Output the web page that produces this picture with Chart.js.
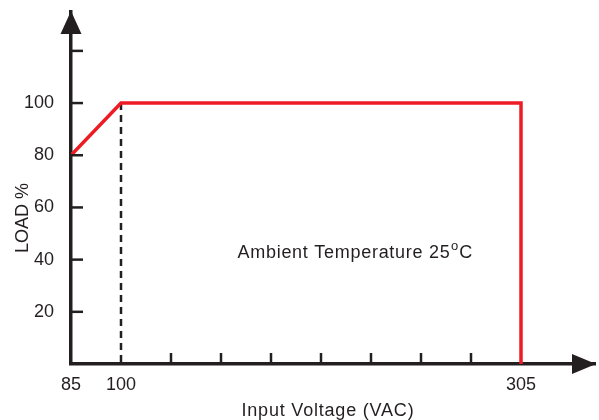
<!DOCTYPE html>
<html>
<head>
<meta charset="utf-8">
<script src="https://cdn.jsdelivr.net/npm/chart.js@4.4.0/dist/chart.umd.min.js"></script>
<style>
  html, body { margin: 0; padding: 0; background: #fff; }
  #wrap { width: 599px; height: 420px; }
</style>
</head>
<body>
<div id="wrap"><canvas id="c"></canvas></div>
<script>
// Schematic x-axis: each tick step is one unit; 85 V at 0, 100 V at 1, 305 V at 9
const voltageLabels = ['85', '100', '305'];
const voltagePositions = [0, 1, 9];
const minorTickPositions = [2, 3, 4, 5, 6, 7, 8];
// Derating curve (LOAD %)
const curveX = [0, 1, 9, 9];
const curveY = [80, 100, 100, 0];
// Dashed marker at 100 VAC
const dashX = [1, 1];
const dashY = [100, 0];
// Y ticks
const yLabelTicks = [20, 40, 60, 80, 100];
const yTickMarks = [20, 40, 60, 80, 100, 120];
const xTitle = 'Input Voltage (VAC)';
const yTitle = 'LOAD %';
const noteText = 'Ambient Temperature 25';
const noteSup = 'o';
const noteEnd = 'C';

const INK = '#231f20';
const RED = '#ed1c24';
const FONT = '"Liberation Sans", Arial, sans-serif';

const toPts = (xs, ys) => xs.map((x, i) => ({ x: x, y: ys[i] }));

const decor = {
  id: 'decor',
  afterDraw(chart) {
    const ctx = chart.ctx;
    const xs = chart.scales.x, ys = chart.scales.y;
    const x0 = xs.getPixelForValue(0);
    const y0 = ys.getPixelForValue(0);
    ctx.save();
    ctx.strokeStyle = INK;
    ctx.fillStyle = INK;
    ctx.lineWidth = 2.5;
    // y tick marks (inside)
    yTickMarks.forEach(v => {
      const py = ys.getPixelForValue(v);
      ctx.beginPath(); ctx.moveTo(x0, py); ctx.lineTo(x0 + 12, py); ctx.stroke();
    });
    // x minor tick marks (inside)
    minorTickPositions.forEach(v => {
      const px = xs.getPixelForValue(v);
      ctx.beginPath(); ctx.moveTo(px, y0); ctx.lineTo(px, y0 - 11); ctx.stroke();
    });
    // arrows
    const top = chart.chartArea.top;
    ctx.beginPath();
    ctx.moveTo(x0, top - 1); ctx.lineTo(x0 - 10.5, top + 22); ctx.lineTo(x0 + 10.5, top + 22); ctx.closePath(); ctx.fill();
    const right = chart.chartArea.right;
    ctx.beginPath();
    ctx.moveTo(right + 1, y0); ctx.lineTo(right - 23, y0 - 10); ctx.lineTo(right - 23, y0 + 10); ctx.closePath(); ctx.fill();

    // titles
    ctx.fillStyle = INK;
    ctx.font = '18px ' + FONT;
    ctx.textBaseline = 'alphabetic';
    ctx.letterSpacing = '0.8px';
    ctx.textAlign = 'left';
    ctx.fillText(xTitle, 241.5, 416);
    // annotation
    ctx.letterSpacing = '0.72px';
    ctx.fillText(noteText, 237.5, 257.5);
    const w = ctx.measureText(noteText).width;
    ctx.letterSpacing = '0px';
    ctx.font = '13px ' + FONT;
    ctx.fillText(noteSup, 237.5 + w + 0.5, 250);
    const w2 = ctx.measureText(noteSup).width;
    ctx.font = '18px ' + FONT;
    ctx.fillText(noteEnd, 237.5 + w + 0.5 + w2 + 1, 257.5);
    // y title
    ctx.translate(28, 218);
    ctx.rotate(-Math.PI / 2);
    ctx.textAlign = 'center';
    ctx.fillText(yTitle, 0, 0);
    ctx.restore();
  }
};

new Chart(document.getElementById('c'), {
  type: 'line',
  data: {
    datasets: [
      {
        data: toPts(curveX, curveY),
        borderColor: RED,
        borderWidth: 3.5,
        pointRadius: 0,
        tension: 0,
        fill: false,
        borderCapStyle: 'butt',
        borderJoinStyle: 'miter'
      },
      {
        data: toPts(dashX, dashY),
        borderColor: INK,
        borderWidth: 2.5,
        borderDash: [7, 5],
        pointRadius: 0,
        fill: false
      }
    ]
  },
  options: {
    responsive: true,
    maintainAspectRatio: false,
    animation: false,
    devicePixelRatio: 1,
    layout: { padding: { left: 0, right: 4, top: 12, bottom: 0 } },
    plugins: { legend: { display: false }, tooltip: { enabled: false } },
    scales: {
      x: {
        type: 'linear',
        min: 0,
        max: 10.48,
        afterFit: s => { s.height = 56; s.paddingLeft = 0; s.paddingRight = 0; },
        afterBuildTicks: s => { s.ticks = voltagePositions.map(v => ({ value: v })); },
        grid: { display: false, drawTicks: false },
        border: { display: true, color: INK, width: 3.5 },
        ticks: {
          autoSkip: false,
          maxRotation: 0,
          padding: 10,
          color: INK,
          font: { family: FONT, size: 18 },
          callback: v => { const i = voltagePositions.indexOf(v); return i >= 0 ? voltageLabels[i] : ''; }
        }
      },
      y: {
        type: 'linear',
        min: 0,
        max: 134.9,
        afterFit: s => { s.width = 71; s.paddingTop = 0; s.paddingBottom = 0; },
        afterBuildTicks: s => { s.ticks = yLabelTicks.map(v => ({ value: v })); },
        grid: { display: false, drawTicks: false },
        border: { display: true, color: INK, width: 3.5 },
        ticks: {
          autoSkip: false,
          padding: 17,
          color: INK,
          font: { family: FONT, size: 18 },
          callback: v => String(v)
        }
      }
    }
  },
  plugins: [decor]
});
</script>
</body>
</html>
